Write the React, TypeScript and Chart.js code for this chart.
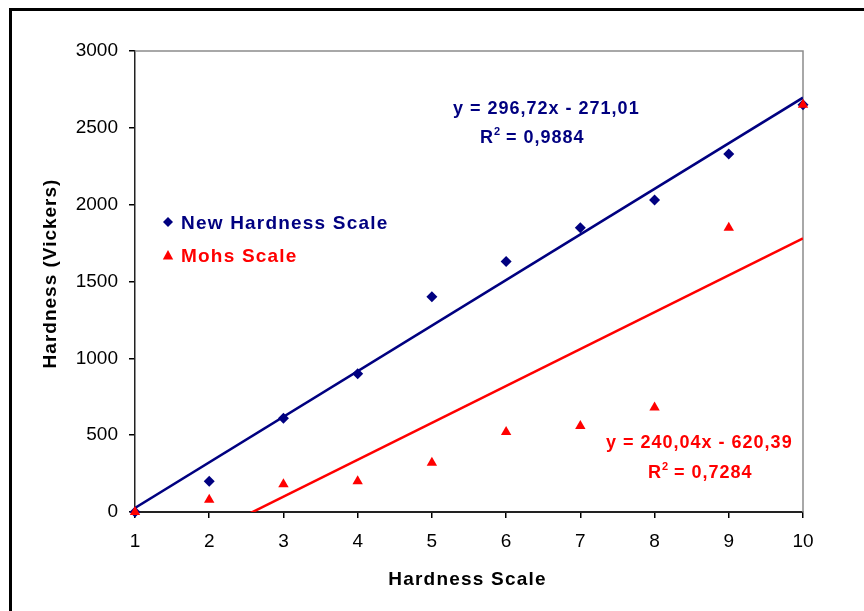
import React, { useEffect, useRef } from 'react';
import { Chart, registerables } from 'chart.js';

Chart.register(...registerables);

const hardnessScale = [1, 2, 3, 4, 5, 6, 7, 8, 9, 10];
const newHardness = [0, 200, 610, 900, 1400, 1630, 1850, 2030, 2330, 2650];
const mohsHardness = [0, 80, 180, 200, 320, 520, 560, 680, 1850, 2650];
const newFitCoef = [296.72, -271.01];
const mohsFitCoef = [240.04, -620.39];
const newFitText = ['y = 296,72x - 271,01', '0,9884'];
const mohsFitText = ['y = 240,04x - 620,39', '0,7284'];
const seriesNames = ['New Hardness Scale', 'Mohs Scale'];
const yTicks = [0, 500, 1000, 1500, 2000, 2500, 3000];
const xTitle = 'Hardness Scale';
const yTitle = 'Hardness (Vickers)';

const NAVY = '#000080';
const RED = '#FF0000';
const FONT = "'Liberation Sans', Arial, sans-serif";

function drawSpaced(ctx: CanvasRenderingContext2D, text: string, x: number, y: number, font: string, color: string, spacing: number, align: CanvasTextAlign = 'left') {
  ctx.save();
  ctx.font = font;
  ctx.fillStyle = color;
  (ctx as any).letterSpacing = spacing + 'px';
  ctx.textAlign = align;
  ctx.textBaseline = 'alphabetic';
  ctx.fillText(text, x, y);
  const w = ctx.measureText(text).width;
  ctx.restore();
  return w;
}

function drawR2(ctx: CanvasRenderingContext2D, value: string, x: number, y: number, color: string) {
  const font = `bold 18px ${FONT}`;
  let w = drawSpaced(ctx, 'R', x, y, font, color, 1);
  drawSpaced(ctx, '2', x + w, y - 8, `bold 11px ${FONT}`, color, 0);
  drawSpaced(ctx, ' = ' + value, x + w + 6, y, font, color, 1);
}

function fitLine(coef: number[]) {
  const x0 = hardnessScale[0];
  const x1 = hardnessScale[hardnessScale.length - 1];
  return [
    { x: x0, y: coef[0] * x0 + coef[1] },
    { x: x1, y: coef[0] * x1 + coef[1] },
  ];
}

const decorPlugin = {
  id: 'decor',
  beforeDraw(chart: any) {
    const ctx = chart.ctx as CanvasRenderingContext2D;
    ctx.save();
    ctx.fillStyle = '#fff';
    ctx.fillRect(0, 0, chart.width, chart.height);
    ctx.restore();
  },
  beforeDatasetsDraw(chart: any) {
    const ctx = chart.ctx as CanvasRenderingContext2D;
    const a = chart.chartArea;
    ctx.save();
    ctx.strokeStyle = '#8c8c8c';
    ctx.lineWidth = 1.5;
    ctx.beginPath();
    ctx.moveTo(a.left, a.top);
    ctx.lineTo(a.right, a.top);
    ctx.lineTo(a.right, a.bottom);
    ctx.stroke();
    ctx.restore();
  },
  afterDraw(chart: any) {
    const ctx = chart.ctx as CanvasRenderingContext2D;
    // outer frame
    ctx.save();
    ctx.strokeStyle = '#000';
    ctx.lineWidth = 3;
    ctx.strokeRect(10.5, 9.5, 1000, 1000);
    ctx.restore();

    // axis titles
    drawSpaced(ctx, xTitle, 467.5, 585, `bold 19px ${FONT}`, '#000', 1.2, 'center');
    ctx.save();
    ctx.translate(56, 273.5);
    ctx.rotate(-Math.PI / 2);
    drawSpaced(ctx, yTitle, 0, 0, `bold 19px ${FONT}`, '#000', 1, 'center');
    ctx.restore();

    // legend
    ctx.save();
    ctx.fillStyle = NAVY;
    ctx.beginPath();
    ctx.moveTo(168, 217);
    ctx.lineTo(173, 222);
    ctx.lineTo(168, 227);
    ctx.lineTo(163, 222);
    ctx.closePath();
    ctx.fill();
    ctx.fillStyle = RED;
    ctx.beginPath();
    ctx.moveTo(168, 250);
    ctx.lineTo(173.2, 259.5);
    ctx.lineTo(162.8, 259.5);
    ctx.closePath();
    ctx.fill();
    ctx.restore();
    drawSpaced(ctx, seriesNames[0], 181, 228.5, `bold 19px ${FONT}`, NAVY, 1.2);
    drawSpaced(ctx, seriesNames[1], 181, 261.7, `bold 19px ${FONT}`, RED, 1.2);

    // equations
    drawSpaced(ctx, newFitText[0], 453, 114, `bold 18px ${FONT}`, NAVY, 1);
    drawR2(ctx, newFitText[1], 480, 143, NAVY);
    drawSpaced(ctx, mohsFitText[0], 606, 447.7, `bold 18px ${FONT}`, RED, 1);
    drawR2(ctx, mohsFitText[1], 648, 478, RED);
  },
};

export default function App() {
  const ref = useRef<HTMLCanvasElement | null>(null);
  useEffect(() => {
    if (!ref.current) return;
    const chart = new Chart(ref.current, {
      type: 'scatter',
      data: {
        datasets: [
          {
            label: seriesNames[1],
            data: hardnessScale.map((x, i) => ({ x, y: mohsHardness[i] })),
            pointStyle: 'triangle',
            pointRadius: 6,
            pointBackgroundColor: RED,
            pointBorderColor: RED,
            pointBorderWidth: 0,
            clip: false as any,
            order: 0,
          },
          {
            label: seriesNames[0],
            data: hardnessScale.map((x, i) => ({ x, y: newHardness[i] })),
            pointStyle: 'rectRot',
            pointRadius: 5.5,
            pointBackgroundColor: NAVY,
            pointBorderColor: NAVY,
            pointBorderWidth: 0,
            clip: false as any,
            order: 1,
          },
          {
            type: 'line',
            label: 'fit new',
            data: fitLine(newFitCoef),
            borderColor: NAVY,
            borderWidth: 2.5,
            pointRadius: 0,
            showLine: true,
            clip: 0 as any,
            order: 2,
          } as any,
          {
            type: 'line',
            label: 'fit mohs',
            data: fitLine(mohsFitCoef),
            borderColor: RED,
            borderWidth: 2.5,
            pointRadius: 0,
            showLine: true,
            clip: 0 as any,
            order: 3,
          } as any,
        ],
      },
      options: {
        animation: false,
        responsive: true,
        maintainAspectRatio: false,
        layout: { padding: { left: 0, top: 51, right: 61, bottom: 0 } },
        plugins: { legend: { display: false }, tooltip: { enabled: false } },
        scales: {
          x: {
            type: 'linear',
            min: 1,
            max: 10,
            afterFit: (s: any) => { s.height = 99; },
            ticks: {
              stepSize: 1,
              color: '#000',
              padding: 12,
              font: { family: FONT, size: 19 },
              callback: (v: any) => String(v),
            },
            grid: { drawOnChartArea: false, drawTicks: true, tickLength: 6, color: '#000', lineWidth: 1.5 },
            border: { color: '#222', width: 2 },
          },
          y: {
            type: 'linear',
            min: yTicks[0],
            max: yTicks[yTicks.length - 1],
            afterFit: (s: any) => { s.width = 135; },
            afterBuildTicks: (s: any) => { s.ticks = yTicks.map((v) => ({ value: v })); },
            ticks: {
              color: '#000',
              padding: 11,
              font: { family: FONT, size: 19 },
              callback: (v: any) => String(v),
            },
            grid: { drawOnChartArea: false, drawTicks: true, tickLength: 6, color: '#000', lineWidth: 1.5 },
            border: { color: '#222', width: 1.5 },
          },
        },
      },
      plugins: [decorPlugin],
    });
    return () => chart.destroy();
  }, []);
  return (
    <div style={{ position: 'fixed', left: 0, top: 0, width: 864, height: 611 }}>
      <canvas ref={ref} />
    </div>
  );
}
